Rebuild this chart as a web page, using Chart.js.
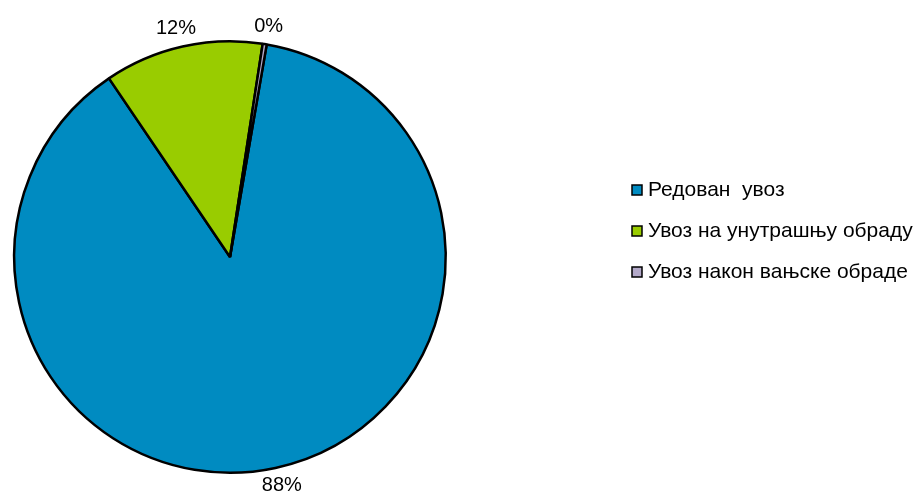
<!DOCTYPE html>
<html>
<head>
<meta charset="utf-8">
<script src="https://cdn.jsdelivr.net/npm/chart.js@4/dist/chart.umd.min.js"></script>
<style>
  html, body { margin: 0; padding: 0; background: #fff; }
  #wrap { width: 916px; height: 497px; }
</style>
</head>
<body>
<div id="wrap"><canvas id="pieChart" width="916" height="497"></canvas></div>
<script>
// Data
const categories = ['Редован  увоз', 'Увоз на унутрашњу обраду', 'Увоз након вањске обраде'];
const shares = [87.8, 11.9, 0.3];
const percentLabels = ['88%', '12%', '0%'];
const sliceColors = ['#008BC1', '#99CC00', '#B3A9C9'];

const LABEL_FONT = '20px "Liberation Sans", Arial, sans-serif';
const LEGEND_FONT = '21px "Liberation Sans", Arial, sans-serif';

// Percent labels outside each slice
const outsideLabels = {
    id: 'outsideLabels',
    afterDatasetsDraw(chart) {
        const ctx = chart.ctx;
        const meta = chart.getDatasetMeta(0);
        ctx.save();
        ctx.font = LABEL_FONT;
        ctx.fillStyle = '#000';
        ctx.textAlign = 'center';
        ctx.textBaseline = 'middle';
        meta.data.forEach((arc, i) => {
            const mid = (arc.startAngle + arc.endAngle) / 2;
            const r = arc.outerRadius + 10;
            const w = ctx.measureText(percentLabels[i]).width;
            const h = 16;
            const x = arc.x + Math.cos(mid) * r + Math.cos(mid) * w / 2;
            const y = arc.y + Math.sin(mid) * r + Math.sin(mid) * h / 2;
            ctx.fillText(percentLabels[i], x, y);
        });
        ctx.restore();
    }
};

// Legend on the right
const sideLegend = {
    id: 'sideLegend',
    afterDraw(chart) {
        const ctx = chart.ctx;
        ctx.save();
        ctx.font = LEGEND_FONT;
        ctx.textBaseline = 'middle';
        ctx.textAlign = 'left';
        categories.forEach((name, i) => {
            const y = 190 + i * 41;
            ctx.fillStyle = sliceColors[i];
            ctx.fillRect(632, y - 5, 10, 10);
            ctx.strokeStyle = '#000';
            ctx.lineWidth = 1.5;
            ctx.strokeRect(632, y - 5, 10, 10);
            ctx.fillStyle = '#000';
            ctx.fillText(name, 648, y);
        });
        ctx.restore();
    }
};

new Chart(document.getElementById('pieChart'), {
    type: 'pie',
    data: {
        labels: categories,
        datasets: [{
            data: shares,
            backgroundColor: sliceColors,
            borderColor: '#000',
            borderWidth: 2.5,
            hoverOffset: 0
        }]
    },
    options: {
        responsive: false,
        animation: false,
        rotation: 9.8,
        events: [],
        layout: { padding: { left: 13, right: 469, top: 40, bottom: 23 } },
        plugins: {
            legend: { display: false },
            tooltip: { enabled: false }
        }
    },
    plugins: [outsideLabels, sideLegend]
});
</script>
</body>
</html>
